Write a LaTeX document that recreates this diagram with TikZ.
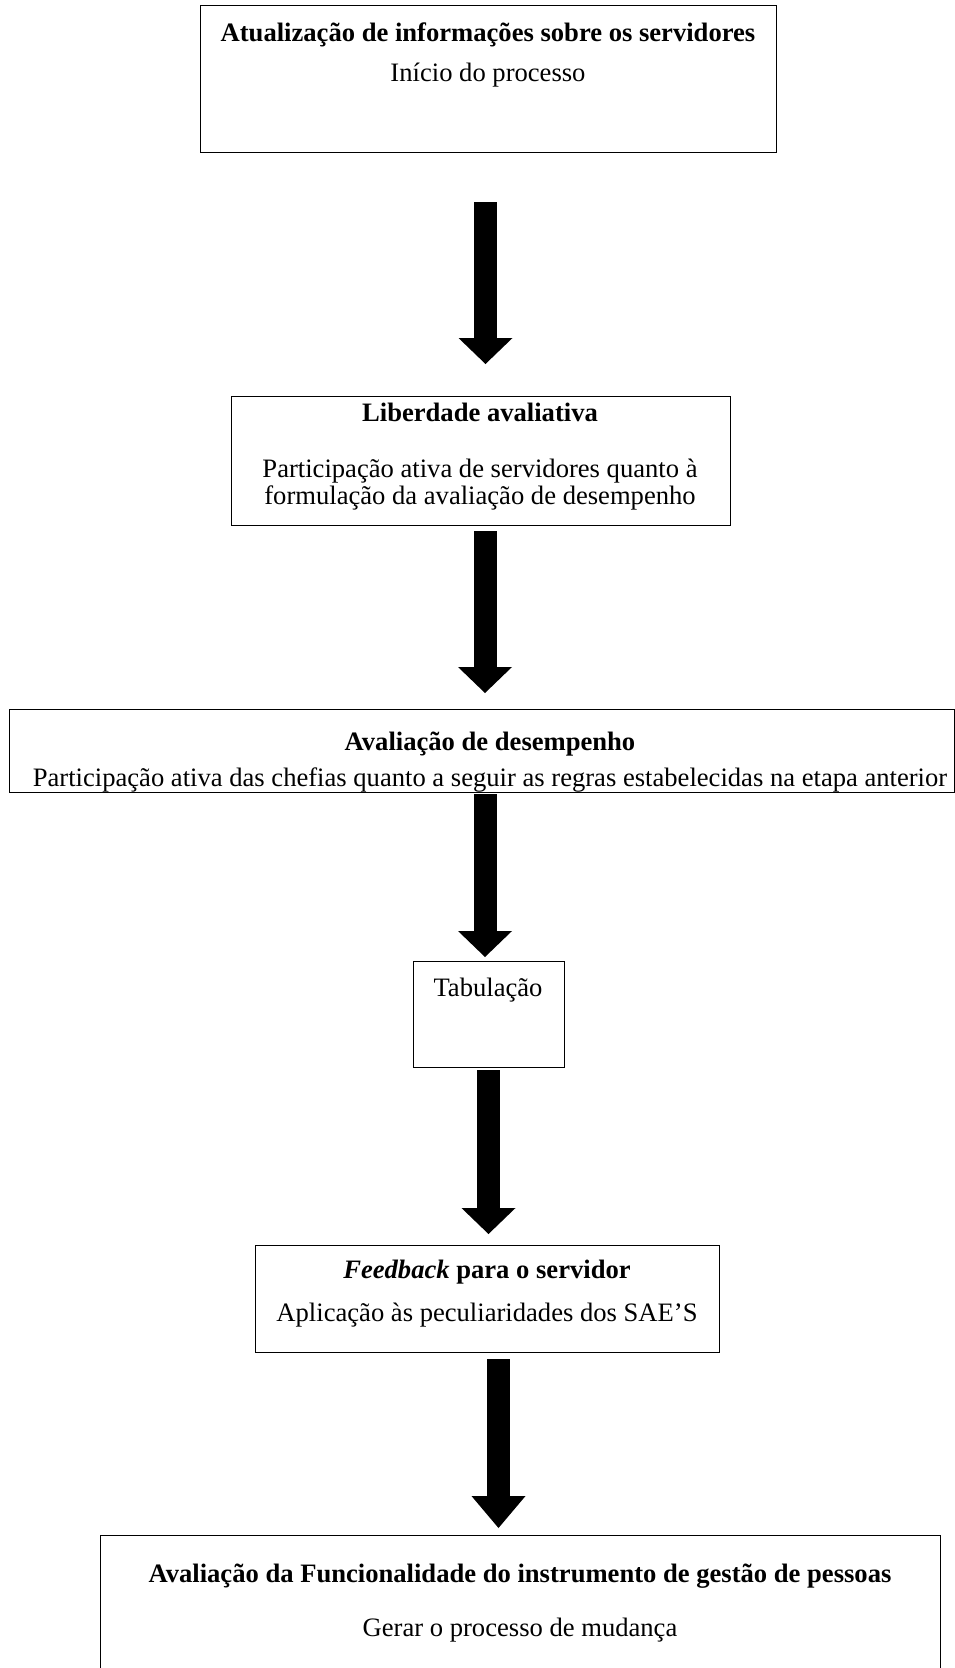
\documentclass[tikz,border=0pt]{standalone}
\usepackage{fontspec}
\setmainfont{Liberation Serif}
\usetikzlibrary{arrows.meta}
\begin{document}
\begin{tikzpicture}[x=1pt,y=-1pt,
  box/.style={draw, line width=1pt, rectangle, inner sep=0pt, anchor=north west},
  txt/.style={inner sep=0pt, font=\fontsize{26.6}{27}\selectfont, align=center},
  bigarrow/.style={line width=23pt, -{Triangle[width=54pt,length=26pt,line width=0pt]}}]
\useasboundingbox (0,0) rectangle (955,1668);

% boxes
\node[box, minimum width=576pt, minimum height=147pt] (b1) at (200,5) {};
\node[box, minimum width=499pt, minimum height=129pt] (b2) at (231,396) {};
\node[box, minimum width=945pt, minimum height=83pt] (b3) at (9,709) {};
\node[box, minimum width=151pt, minimum height=106pt] (b4) at (413,961) {};
\node[box, minimum width=464pt, minimum height=107pt] (b5) at (255,1245) {};
\node[box, minimum width=840pt, minimum height=140pt] (b6) at (100,1535) {};

% texts
\node[txt] (t1a) at (488,35) {\textbf{Atualização de informações sobre os servidores}};
\node[txt] (t1b) at (488,75) {Início do processo};
\node[txt] (t2a) at (480,412) {\textbf{Liberdade avaliativa}};
\node[txt] (t2b) at (480,485) {Participação ativa de servidores quanto à\\formulação da avaliação de desempenho};
\node[txt] (t3a) at (490,744) {\textbf{Avaliação de desempenho}};
\node[txt] (t3b) at (490,780) {Participação ativa das chefias quanto a seguir as regras estabelecidas na etapa anterior};
\node[txt] (t4) at (488,990) {Tabulação};
\node[txt] (t5a) at (487,1272) {\textbf{\textit{Feedback} para o servidor}};
\node[txt] (t5b) at (487,1315) {Aplicação às peculiaridades dos SAE’S};
\node[txt] (t6a) at (520,1576) {\textbf{Avaliação da Funcionalidade do instrumento de gestão de pessoas}};
\node[txt] (t6b) at (520,1630) {Gerar o processo de mudança};

% arrows
\coordinate (a1s) at (485.5,202);  \coordinate (a1e) at (485.5,364);
\coordinate (a2s) at (485,531);    \coordinate (a2e) at (485,693);
\coordinate (a3s) at (485,794);    \coordinate (a3e) at (485,957);
\coordinate (a4s) at (488.5,1070); \coordinate (a4e) at (488.5,1234);
\coordinate (a5s) at (498.5,1359); \coordinate (a5e) at (498.5,1528);
\draw[bigarrow] (a1s) -- (a1e);
\draw[bigarrow] (a2s) -- (a2e);
\draw[bigarrow] (a3s) -- (a3e);
\draw[bigarrow] (a4s) -- (a4e);
\draw[bigarrow, -{Triangle[width=54pt,length=32pt,line width=0pt]}] (a5s) -- (a5e);
\end{tikzpicture}
\end{document}
